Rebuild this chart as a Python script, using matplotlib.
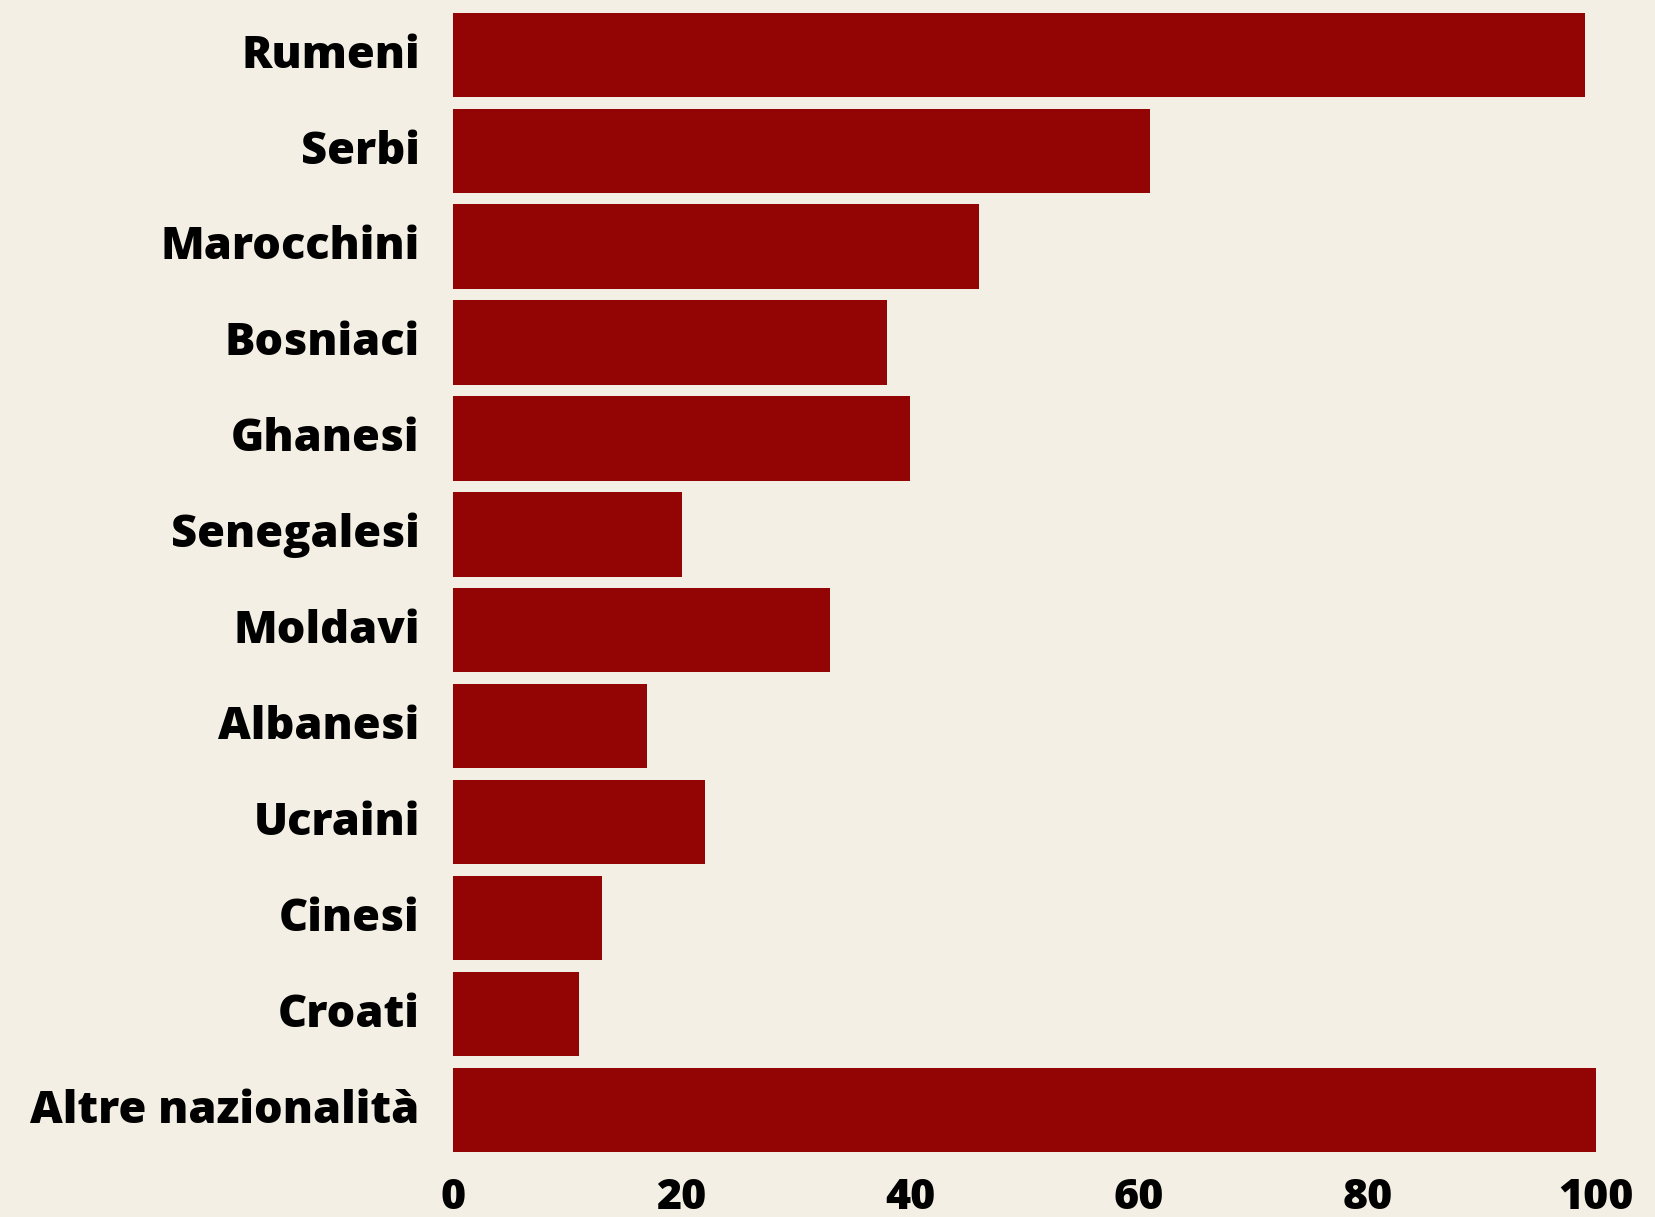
import matplotlib
matplotlib.use("Agg")
import matplotlib.pyplot as plt
from matplotlib.transforms import ScaledTranslation

categories = ["Rumeni", "Serbi", "Marocchini", "Bosniaci", "Ghanesi", "Senegalesi",
              "Moldavi", "Albanesi", "Ucraini", "Cinesi", "Croati", "Altre nazionalità"]
values = [99, 61, 46, 38, 40, 20, 33, 17, 22, 13, 11, 100]
xticks = [0, 20, 40, 60, 80, 100]

bg = "#f4efe4"
bar_color = "#930505"

fig = plt.figure(figsize=(16.56, 12.17), dpi=100, facecolor=bg)
ax = fig.add_axes([0.2736, 0.0534, 0.6902, 0.9362])
ax.set_facecolor(bg)

pos = list(range(len(categories)))
ax.barh(pos, values, height=0.88, color=bar_color)

ax.set_ylim(len(categories) - 0.56, -0.44)
ax.set_xlim(0, 100)
ax.set_yticks(pos)
ax.set_yticklabels(categories, fontfamily="Open Sans", fontweight="heavy", fontsize=32.5)
ax.set_xticks(xticks)
ax.set_xticklabels([str(t) for t in xticks], fontfamily="Open Sans", fontweight="heavy", fontsize=31)
ax.tick_params(axis="y", length=0, pad=24)
ax.tick_params(axis="x", length=0, pad=18)
for s in ax.spines.values():
    s.set_visible(False)

# names sit a little above bar centres in the original
for lab in ax.get_yticklabels():
    lab.set_transform(lab.get_transform() + ScaledTranslation(0, 3 / 72, fig.dpi_scale_trans))

fig.savefig("out.png", dpi=100, facecolor=bg)
